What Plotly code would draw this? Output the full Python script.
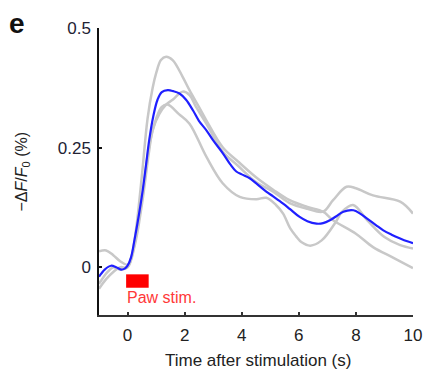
import plotly.graph_objects as go

# Mean trace (blue)
mean_x = [-1.0, -0.8, -0.58, -0.4, -0.23, -0.1, 0.0, 0.12, 0.24, 0.4, 0.53, 0.65, 0.76, 0.9, 1.05, 1.2, 1.41,
          1.6, 1.82, 2.05, 2.29, 2.5, 2.75, 3.0, 3.34, 3.6, 3.81, 4.0, 4.28, 4.51, 4.86, 5.1, 5.45, 5.68,
          6.03, 6.3, 6.62, 6.85, 7.09, 7.3, 7.56, 7.91, 8.15, 8.38, 8.7, 8.96, 9.25, 9.55, 9.8, 10.0]
mean_y = [-0.02, -0.005, 0.003, 0.0, -0.005, -0.003, 0.003, 0.02, 0.056, 0.11, 0.16, 0.215, 0.266, 0.315, 0.35,
          0.366, 0.37, 0.368, 0.363, 0.35, 0.328, 0.306, 0.287, 0.265, 0.238, 0.215, 0.2, 0.194, 0.186, 0.175,
          0.158, 0.148, 0.133, 0.122, 0.105, 0.096, 0.091, 0.092, 0.098, 0.106, 0.116, 0.119, 0.112, 0.102,
          0.088, 0.077, 0.068, 0.06, 0.054, 0.05]

# Individual trials (gray)
t1_x = [-1.0, -0.75, -0.5, -0.25, 0.0, 0.15, 0.3, 0.5, 0.7, 0.88, 1.0, 1.17, 1.35, 1.58, 1.93, 2.17, 2.5,
        2.76, 3.34, 3.85, 4.5, 5.1, 5.68, 6.3, 6.85, 7.2, 8.0, 8.6, 9.3, 10.0]
t1_y = [0.033, 0.035, 0.025, 0.012, 0.005, 0.025, 0.08, 0.19, 0.31, 0.375, 0.405, 0.433, 0.44, 0.433, 0.398,
        0.37, 0.335, 0.307, 0.25, 0.222, 0.188, 0.162, 0.14, 0.126, 0.116, 0.098, 0.07, 0.042, 0.02, -0.002]

t2_x = [-1.0, -0.75, -0.5, -0.25, 0.0, 0.25, 0.5, 0.75, 0.88, 1.11, 1.35, 1.58, 1.93, 2.17, 2.4, 2.76, 3.34,
        3.85, 4.5, 5.1, 5.68, 6.3, 6.85, 7.2, 7.67, 8.0, 8.6, 9.55, 10.0]
t2_y = [-0.045, -0.025, -0.01, 0.0, 0.0, 0.045, 0.13, 0.24, 0.287, 0.32, 0.34, 0.35, 0.367, 0.36, 0.335, 0.3,
        0.241, 0.213, 0.178, 0.158, 0.134, 0.122, 0.116, 0.14, 0.168, 0.165, 0.15, 0.137, 0.112]

t3_x = [-1.0, -0.7, -0.5, -0.25, 0.0, 0.25, 0.5, 0.75, 1.0, 1.2, 1.4, 1.8, 2.17, 2.76, 3.34, 3.93, 4.51, 4.86,
        5.2, 5.45, 5.7, 5.9, 6.1, 6.4, 6.8, 7.3, 7.5, 7.9, 8.4, 9.0, 9.55, 10.0]
t3_y = [-0.035, -0.01, 0.0, -0.005, 0.0, 0.05, 0.14, 0.25, 0.31, 0.335, 0.34, 0.32, 0.3, 0.231, 0.175, 0.147,
        0.142, 0.145, 0.13, 0.112, 0.081, 0.065, 0.052, 0.045, 0.056, 0.095, 0.115, 0.13, 0.098, 0.063, 0.046,
        0.039]

trials = [(t1_x, t1_y), (t2_x, t2_y), (t3_x, t3_y)]

# Stimulus bar
stim_x = [-0.05, 0.74]
stim_y = [-0.043, -0.015]

x_ticks = [0, 2, 4, 6, 8, 10]
y_ticks = [0, 0.25, 0.5]
y_tick_labels = ["0", "0.25", "0.5"]

FONT = "Arial, Liberation Sans, sans-serif"

fig = go.Figure()
for tx, ty in trials:
    fig.add_trace(go.Scatter(x=tx, y=ty, mode="lines",
                             line=dict(color="#c8c8c8", width=2.5, shape="spline", smoothing=1.0),
                             hoverinfo="skip", showlegend=False))
fig.add_trace(go.Scatter(x=mean_x, y=mean_y, mode="lines",
                         line=dict(color="#1f1fff", width=2.2, shape="spline", smoothing=1.0),
                         showlegend=False))

fig.add_shape(type="rect", xref="x", yref="y", x0=stim_x[0], x1=stim_x[1], y0=stim_y[0], y1=stim_y[1],
              fillcolor="#ff0000", line=dict(width=0))

fig.add_annotation(x=-0.1, y=-0.064, xref="x", yref="y", text="Paw stim.", showarrow=False,
                   xanchor="left", yanchor="middle", font=dict(family=FONT, size=16, color="#ff3838"))

fig.add_annotation(x=0.505, y=-0.157, xref="paper", yref="paper", text="Time after stimulation (s)",
                   showarrow=False, xanchor="center", yanchor="middle",
                   font=dict(family=FONT, size=17, color="#222222"))
fig.add_annotation(x=-0.245, y=0.5, xref="paper", yref="paper",
                   text="−Δ<i>F</i>/<i>F</i><sub>0</sub> (%)", textangle=-90,
                   showarrow=False, xanchor="center", yanchor="middle",
                   font=dict(family=FONT, size=16, color="#222222"))
fig.add_annotation(x=-0.261, y=1.017, xref="paper", yref="paper", text="<b>e</b>",
                   showarrow=False, xanchor="center", yanchor="middle",
                   font=dict(family=FONT, size=28, color="#111111"))

fig.update_layout(
    width=423, height=370,
    margin=dict(l=99, r=10, t=28, b=55, autoexpand=False),
    paper_bgcolor="white", plot_bgcolor="white",
    font=dict(family=FONT, size=17, color="#222222"),
    showlegend=False,
)
fig.update_xaxes(range=[-1, 10], tickmode="array", tickvals=x_ticks, ticktext=[str(v) for v in x_ticks],
                 showgrid=False, zeroline=False, showline=True, linecolor="#333333", linewidth=2,
                 ticks="inside", ticklen=3, tickwidth=2, tickcolor="#333333", automargin=False,
                 tickfont=dict(family=FONT, size=17, color="#222222"), ticklabelstandoff=4)
fig.update_yaxes(range=[-0.1, 0.5], tickmode="array", tickvals=y_ticks, ticktext=y_tick_labels,
                 showgrid=False, zeroline=False, showline=True, linecolor="#111111", linewidth=1.5,
                 ticks="inside", ticklen=3, tickwidth=1.5, tickcolor="#111111", automargin=False,
                 tickfont=dict(family=FONT, size=17, color="#222233"), ticklabelstandoff=3)

fig.write_html("out.html", config={"displayModeBar": False},
               post_script="document.body.style.margin='0';document.body.style.padding='0';")
